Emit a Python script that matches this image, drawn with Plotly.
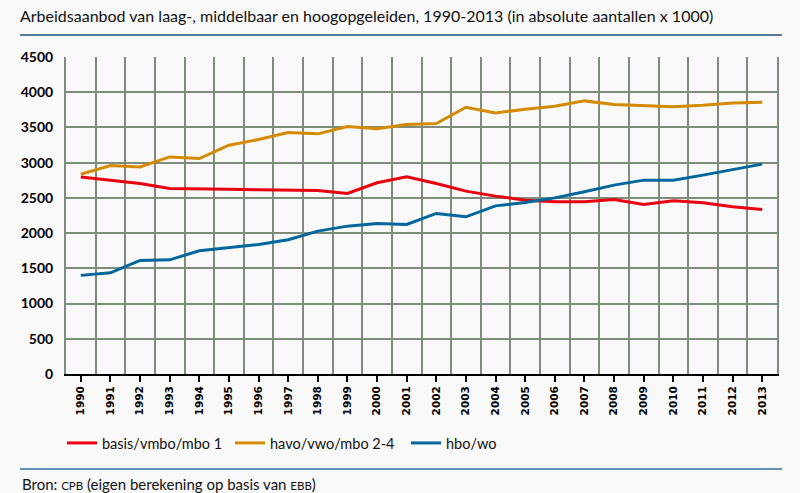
import plotly.graph_objects as go

years = list(range(1990, 2014))
basis = [2798, 2752, 2705, 2634, 2624, 2624, 2615, 2605, 2605, 2563, 2714, 2798,
         2705, 2596, 2525, 2468, 2444, 2444, 2477, 2406, 2458, 2430, 2373, 2336]
havo = [2836, 2960, 2940, 3082, 3059, 3248, 3329, 3428, 3409, 3513, 3480, 3542,
        3556, 3787, 3706, 3759, 3801, 3877, 3825, 3806, 3792, 3815, 3848, 3858]
hbo = [1400, 1437, 1612, 1621, 1749, 1791, 1839, 1905, 2028, 2099, 2137, 2123,
       2279, 2231, 2387, 2435, 2500, 2586, 2681, 2752, 2752, 2823, 2903, 2979]
names = ["basis/vmbo/mbo 1", "havo/vwo/mbo 2-4", "hbo/wo"]
colors = ["#e8000e", "#d48a00", "#00669c"]
yticks = [0, 500, 1000, 1500, 2000, 2500, 3000, 3500, 4000, 4500]

W, H = 800, 493
L, R, T, B = 66, 23, 57, 119
pw, ph = W - L - R, H - T - B
def px(x): return (x - L) / pw
def py(y): return (H - B - y) / ph

fig = go.Figure()
legend_x = [62, 230, 406]
for i, (n, v, c) in enumerate(zip(names, [basis, havo, hbo], colors)):
    leg = "legend" if i == 0 else f"legend{i+1}"
    fig.add_trace(go.Scatter(x=years, y=v, name=n, mode="lines",
                             line=dict(color=c, width=3), legend=leg))

legfont = dict(family="Lato", size=14.5, color="#111111")
legs = {}
for i, lx in enumerate(legend_x):
    key = "legend" if i == 0 else f"legend{i+1}"
    legs[key] = dict(x=px(lx), y=py(443), xanchor="left", yanchor="middle",
                     orientation="h", font=legfont, bgcolor="rgba(0,0,0,0)",
                     itemwidth=30, tracegroupgap=0)

fig.update_layout(
    width=W, height=H,
    margin=dict(l=L, r=R, t=T, b=B, autoexpand=False),
    paper_bgcolor="#f9f9f9", plot_bgcolor="#f9f9f9",
    showlegend=True,
    title=dict(text="Arbeidsaanbod van laag-, middelbaar en hoogopgeleiden, 1990-2013 (in absolute aantallen x 1000)",
               x=20 / W, xanchor="left", xref="container",
               y=1 - 16 / H, yanchor="middle",
               font=dict(family="Lato", size=16, color="#111111")),
    xaxis=dict(range=[1989.5, 2013.5], tickmode="array", tickvals=years,
               ticktext=[str(y) for y in years], tickangle=-90,
               tickfont=dict(family="DejaVu Sans", size=10.5, color="#000000", weight="bold"),
               showgrid=False, zeroline=False,
               showline=True, linecolor="#000000", linewidth=2,
               ticks="outside", ticklen=6, tickwidth=2, tickcolor="#000000",
               minor=dict(tickmode="linear", tick0=1989.5, dtick=1, showgrid=True,
                          gridcolor="#7f8c7c", gridwidth=2, ticks="")),
    yaxis=dict(range=[0, 4500], tickmode="array", tickvals=yticks,
               ticktext=[str(t) for t in yticks],
               tickfont=dict(family="Lato", size=14, color="#000000", weight="bold"),
               showgrid=True, gridcolor="#7f8c7c", gridwidth=2, zeroline=False,
               showline=True, linecolor="#7f8c7c", linewidth=2, mirror=True,
               ticks="", ticklabelstandoff=8),
    **legs,
)

# horizontal rules
for yy, col in [(35, "#1f4f7a"), (469, "#2e6f9e")]:
    fig.add_shape(type="line", xref="paper", yref="paper",
                  x0=px(20), x1=px(782), y0=py(yy), y1=py(yy),
                  line=dict(color=col, width=1.5))

fig.add_annotation(
    text="Bron: <span style='font-size:11.5px'>CPB</span> (eigen berekening op basis van <span style='font-size:11.5px'>EBB</span>)",
    xref="paper", yref="paper", x=px(20), y=py(484), xanchor="left", yanchor="middle",
    showarrow=False, font=dict(family="Lato", size=15, color="#111111"))

fig.write_html("out.html", config={"displayModeBar": False},
               post_script="document.body.style.margin='0';document.body.style.background='#f9f9f9';")
